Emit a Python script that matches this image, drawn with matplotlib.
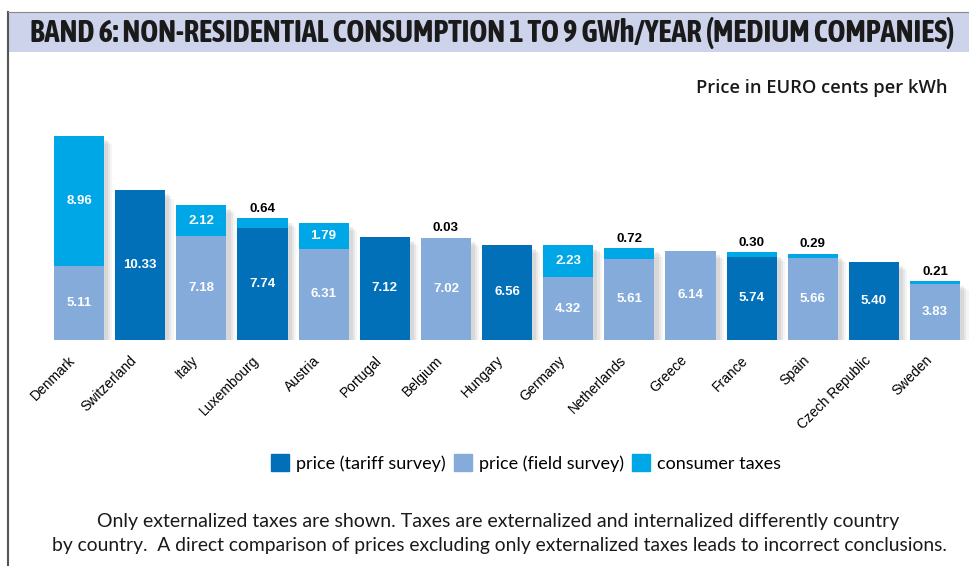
#!/usr/bin/env python3
# -*- coding: utf-8 -*-

import matplotlib
matplotlib.use("Agg")
import matplotlib.pyplot as plt
import matplotlib.patheffects as pe
from matplotlib import font_manager
from matplotlib.patches import Patch, Rectangle
from matplotlib.lines import Line2D

# Données (centimes d'euro par kWh)
countries = ['Denmark', 'Switzerland', 'Italy', 'Luxembourg', 'Austria', 'Portugal',
             'Belgium', 'Hungary', 'Germany', 'Netherlands', 'Greece', 'France',
             'Spain', 'Czech Republic', 'Sweden']
prices = [5.11, 10.33, 7.18, 7.74, 6.31, 7.12, 7.02, 6.56, 4.32, 5.61, 6.14, 5.74,
          5.66, 5.40, 3.83]
taxes = [8.96, 0, 2.12, 0.64, 1.79, 0, 0.03, 0, 2.23, 0.72, 0, 0.30, 0.29, 0, 0.21]
# 't' = enquête tarifaire, 'f' = enquête terrain
survey = ['f', 't', 'f', 't', 'f', 't', 'f', 't', 'f', 'f', 'f', 't', 'f', 't', 'f']

c_tariff = '#0270B8'
c_field = '#85ABDA'
c_tax = '#00A7E7'

# police condensée pour le titre, si une existe
narrow = None
for f in font_manager.fontManager.ttflist:
    if ('Narrow' in f.name or 'Condensed' in f.name) and f.weight in ('bold', 700):
        narrow = f.fname
        break
if narrow is None:
    for f in font_manager.fontManager.ttflist:
        if 'Condensed' in f.name or 'Narrow' in f.name:
            narrow = f.fname
            break

W, H = 970, 566
fig = plt.figure(figsize=(W / 100, H / 100), dpi=100)

# bandeau du titre
fig.patches.append(Rectangle((8 / W, 1 - 52 / H), 1, 40 / H, transform=fig.transFigure,
                             facecolor='#CDD3EA', edgecolor='none', zorder=0))
fig.add_artist(Line2D([8 / W, 8 / W], [0, 1 - 12 / H], transform=fig.transFigure,
                      color='#555555', lw=1.5))
fig.add_artist(Line2D([8 / W, 1], [1 - 12 / H, 1 - 12 / H], transform=fig.transFigure,
                      color='#888888', lw=0.8))
title = 'BAND 6: NON-RESIDENTIAL CONSUMPTION 1 TO 9 GWh/YEAR (MEDIUM COMPANIES)'
if narrow:
    fig.text(30 / W, 1 - 33 / H, title, fontproperties=font_manager.FontProperties(fname=narrow, size=22),
             fontweight='bold', color='#1a1a1a', va='center', ha='left')
else:
    fig.text(30 / W, 1 - 33 / H, title, family=['Liberation Sans', 'DejaVu Sans'],
             fontweight='bold', fontsize=13.6, color='#1a1a1a', va='center', ha='left')
fig.text(948 / W, 1 - 88 / H, 'Price in EURO cents per kWh', family=['Open Sans', 'DejaVu Sans'],
         fontweight='semibold', fontsize=13.2, color='#1a1a1a', ha='right', va='center')

# axes placés au pixel près
ax = fig.add_axes([20 / W, 226 / H, 950 / W, 240 / H])
x = list(range(len(countries)))
ax.set_xlim(-0.965, 14.57)
ax.set_ylim(0, 240 / 14.5)
ax.axis('off')

# ombre floue approximée par plusieurs couches
shadow = [pe.SimplePatchShadow(offset=(o, -o), shadow_rgbFace='#888888', alpha=a)
          for o, a in ((6, 0.08), (4.5, 0.12), (3, 0.15))]
base_colors = [c_tariff if s == 't' else c_field for s in survey]
ax.bar(x, prices, width=0.82, color=base_colors, zorder=2)
ax.bar(x, taxes, bottom=prices, width=0.82, color=c_tax, zorder=2)
for i in x:
    top = prices[i] + taxes[i]
    r = Rectangle((i - 0.41, 0), 0.82, top, facecolor='white', edgecolor='none', zorder=1)
    r.set_path_effects(shadow)
    ax.add_patch(r)

lbl = dict(family=['Liberation Sans', 'DejaVu Sans'], fontweight='bold', fontsize=9.5)
for i in x:
    ax.text(i, prices[i] / 2, f'{prices[i]:.2f}', color='white', ha='center', va='center',
            zorder=3, **lbl)
    if taxes[i] >= 1:
        ax.text(i, prices[i] + taxes[i] / 2, f'{taxes[i]:.2f}', color='white', ha='center',
                va='center', zorder=3, **lbl)
    elif taxes[i] > 0:
        ax.text(i, prices[i] + taxes[i] + 0.25, f'{taxes[i]:.2f}', color='black', ha='center',
                va='bottom', zorder=3, **lbl)

# noms des pays
for i, name in enumerate(countries):
    ax.annotate(name, (i, 0), xytext=(-4, -13), textcoords='offset points', rotation=45,
                rotation_mode='anchor', ha='right', va='center', fontsize=10,
                family=['Liberation Sans', 'DejaVu Sans'], color='black', annotation_clip=False)

handles = [Patch(color=c_tariff, label='price (tariff survey)'),
           Patch(color=c_field, label='price (field survey)'),
           Patch(color=c_tax, label='consumer taxes')]
fig.legend(handles=handles, loc='center', bbox_to_anchor=(526 / W, 1 - 463 / H), ncol=3,
           frameon=False, handlelength=1.0, handleheight=1.0, handletextpad=0.4,
           columnspacing=0.45, prop={'family': ['Lato', 'DejaVu Sans'], 'size': 13})

fig.text(498 / W, 1 - 522 / H,
         'Only externalized taxes are shown. Taxes are externalized and internalized differently country',
         ha='center', va='center', fontsize=14, family=['Lato', 'DejaVu Sans'], color='#1a1a1a')
fig.text(499 / W, 1 - 546 / H,
         'by country.  A direct comparison of prices excluding only externalized taxes leads to incorrect conclusions.',
         ha='center', va='center', fontsize=13.9, family=['Lato', 'DejaVu Sans'], color='#1a1a1a')

fig.savefig('out.png', dpi=100)
